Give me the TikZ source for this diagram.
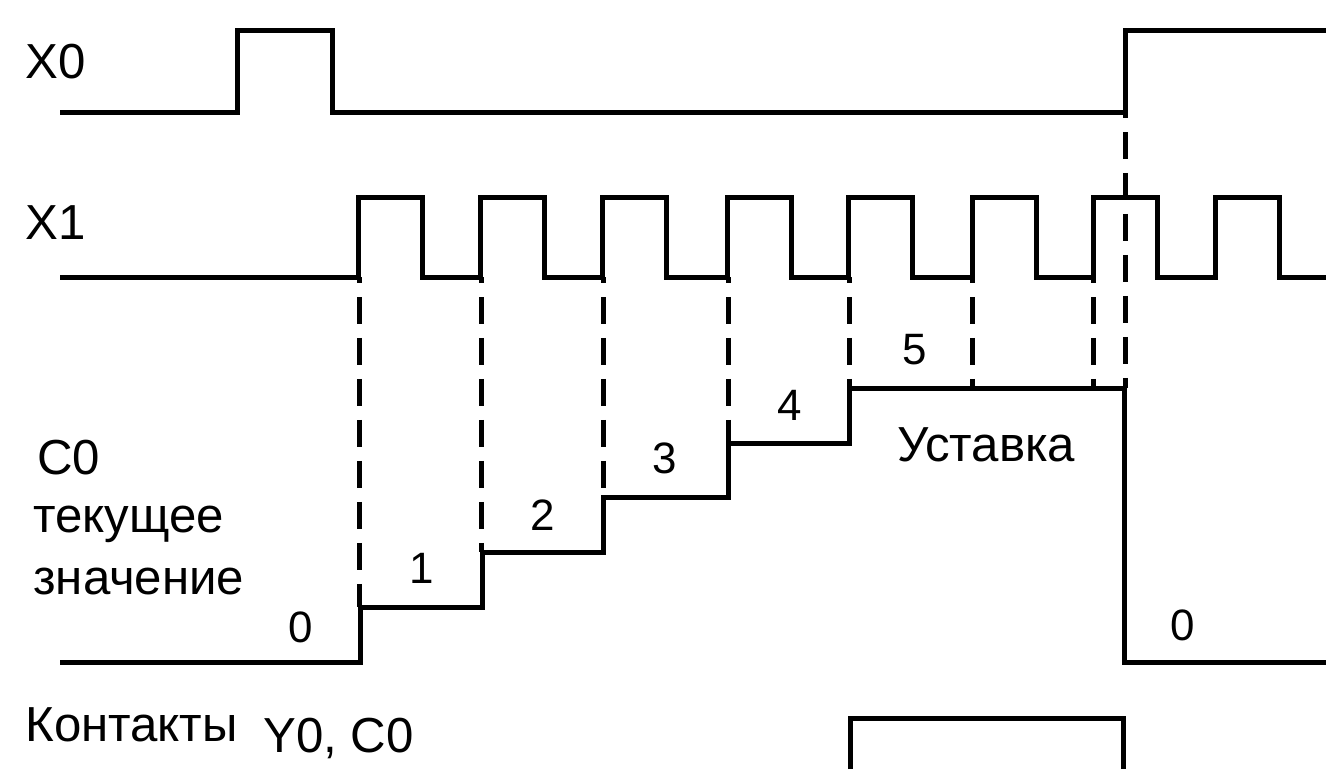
\documentclass[tikz,border=0pt]{standalone}
\usepackage{fontspec}
\setmainfont{Liberation Sans}
\usepackage{tikz}
\usetikzlibrary{positioning}

\begin{document}
\begin{tikzpicture}[
  x=0.02cm, y=-0.02cm,
  sig/.style={line width=0.1cm},
  guide/.style={line width=0.1cm, dash pattern=on 0.54cm off 0.28cm, dash phase=-0.4cm},
  lbl/.style={anchor=west, inner sep=0pt, font=\fontsize{28}{30}\selectfont},
  txt/.style={anchor=west, inner sep=0pt, font=\fontsize{28}{30}\selectfont},
  val/.style={inner sep=0pt, font=\fontsize{25}{27}\selectfont}
]
  \useasboundingbox (0,0) rectangle (1326,769);

  % signal names
  \node[lbl] (X0) at (25,62) {X0};
  \node[lbl] (X1) at (25,223) {X1};
  \node[lbl] (C0) at (37,458) {C0};
  \node[txt] (cur) at (33,524) {текущее};
  \node[txt] (now) at (33,581) {значение};
  \node[txt] (cont) at (25,725) {Контакты};
  \node[lbl] (Y0) at (263,738) {Y0, C0};

  % X0
  \draw[sig] (60,112) -- (237,112) -- (237,30) -- (332,30) -- (332,112)
    -- (1125,112) -- (1125,30) -- (1326,30);

  % X1 pulses
  \draw[sig] (60,277) foreach \r in {358,480,602,727,848,972,1093,1215}{
    -- (\r,277) -- (\r,197) -- ({\r+64},197) -- ({\r+64},277)} -- (1326,277);

  % C0 count
  \draw[sig] (60,662) -- (360,662) -- (360,607) -- (482,607) -- (482,552)
    -- (603,552) -- (603,497) -- (728,497) -- (728,443) -- (849,443)
    -- (849,388) -- (1124,388) -- (1124,662) -- (1326,662);

  % Y0 output
  \draw[sig] (850,769) -- (850,718) -- (1123,718) -- (1123,769);

  % count edges
  \foreach \x/\y in {359/607, 481/552, 603/497, 728/443, 849/388, 972/388, 1093/388}{
    \draw[guide] (\x,277) -- (\x,\y);
  }
  \draw[guide] (1125,112) -- (1125,388);

  % counter values
  \foreach \v/\x/\y in {0/301/627, 1/422/568, 2/543/515, 3/665/458, 4/790/405, 5/915/350}{
    \node[val] (v\v) at (\x,\y) {\v};
  }
  \node[val] (vz) at (1183,625) {0};
  \node[txt] (set) at (897,445) {Уставка};
\end{tikzpicture}
\end{document}
